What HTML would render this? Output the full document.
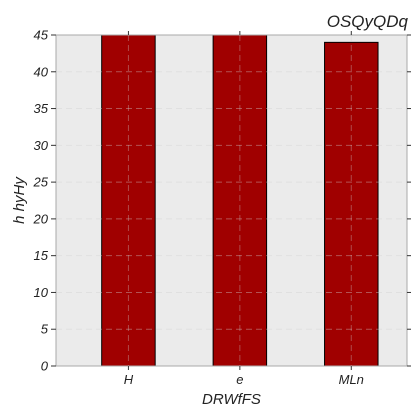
<!DOCTYPE html>
<html><head><meta charset="utf-8"><style>
html,body{margin:0;padding:0;background:#fff;width:420px;height:420px;overflow:hidden}
svg text{font-family:"Liberation Sans",Arial,sans-serif;font-style:italic;fill:#222}
</style></head><body>
<svg id="chart" width="420" height="420" xmlns="http://www.w3.org/2000/svg"></svg>
<script>
const categories = ["H", "e", "MLn"];
const values = [46, 47, 44];
const yTicks = [0, 5, 10, 15, 20, 25, 30, 35, 40, 45];

const L = 56, R = 407, T = 35, B = 366;
const xMin = -0.65, xMax = 2.5, yMin = 0, yMax = 45;
const xs = v => L + (v - xMin) / (xMax - xMin) * (R - L);
const ys = v => B - (v - yMin) / (yMax - yMin) * (B - T);
const barW = 0.48;
const svg = document.getElementById('chart');
const NS = 'http://www.w3.org/2000/svg';
function mk(tag, attrs, parent) {
  const e = document.createElementNS(NS, tag);
  for (const k in attrs) e.setAttribute(k, attrs[k]);
  (parent || svg).appendChild(e);
  return e;
}
const bg = mk('rect', {x: L, y: T, width: R - L, height: B - T, fill: '#ebebeb'});


const defs = mk('defs', {});
const cp = mk('clipPath', {id: 'clip'}, defs);
mk('rect', {x: L, y: T, width: R - L, height: B - T}, cp);

const bars = mk('g', {'clip-path': 'url(#clip)'});


categories.forEach((c, i) => {
  const x0 = xs(i - barW / 2), x1 = xs(i + barW / 2);
  const r = mk('rect', {x: x0, y: ys(values[i]), width: x1 - x0, height: B - ys(values[i]), fill: '#a00000', stroke: '#000', 'stroke-width': 1}, bars);
  
  
});
yTicks.forEach(t => {
  if (t === 0 || t === 45) return;
  const g = mk('line', {x1: L, x2: R, y1: ys(t), y2: ys(t), stroke: '#d0d0d0', 'stroke-dasharray': '6,4', 'stroke-width': 1, opacity: 0.4});
  
  
});
categories.forEach((c, i) => {
  const g = mk('line', {x1: xs(i), x2: xs(i), y1: T, y2: B, stroke: '#d0d0d0', 'stroke-dasharray': '6,4', 'stroke-width': 1, opacity: 0.35});
  
  
});
const frame = mk('rect', {x: L, y: T, width: R - L, height: B - T, fill: 'none', stroke: '#aaa', 'stroke-width': 1});


yTicks.forEach(t => {
  const y = ys(t);
  mk('line', {x1: L - 5, x2: L, y1: y, y2: y, stroke: '#333'});
  mk('line', {x1: R, x2: R + 4, y1: y, y2: y, stroke: '#333'});
  const tx = mk('text', {x: L - 8, y: y + 4.5, 'text-anchor': 'end', 'font-size': 13});
  tx.textContent = t;
  
  
});
categories.forEach((c, i) => {
  const x = xs(i);
  mk('line', {x1: x, x2: x, y1: B, y2: B + 4, stroke: '#333'});
  mk('line', {x1: x, x2: x, y1: T - 4, y2: T, stroke: '#333'});
  const tx = mk('text', {x: x, y: B + 18, 'text-anchor': 'middle', 'font-size': 13});
  tx.textContent = c;
  
  
});
const xt = mk('text', {x: (L + R) / 2, y: 404, 'text-anchor': 'middle', 'font-size': 15});
xt.textContent = 'DRWfFS';


const yt = mk('text', {x: 0, y: 0, 'text-anchor': 'middle', 'font-size': 15, transform: 'translate(24,' + ((T + B) / 2) + ') rotate(-90)'});
yt.textContent = 'h hyHy';


const tt = mk('text', {x: 408, y: 27, 'text-anchor': 'end', 'font-size': 17});
tt.textContent = 'OSQyQDq';


</script>
</body></html>
